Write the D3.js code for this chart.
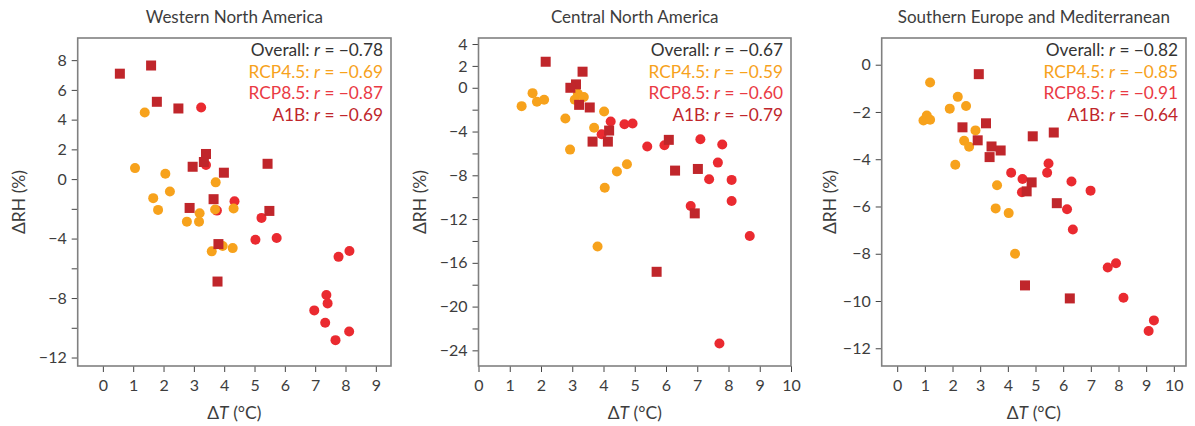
<!DOCTYPE html>
<html>
<head>
<meta charset="utf-8">
<script src="https://cdn.jsdelivr.net/npm/d3@7"></script>
<style>
  body { margin: 0; background: #fff; }
  svg text { font-family: Lato, "Open Sans", sans-serif; fill: #3d3d3d; font-weight: 400; }
</style>
</head>
<body>
<div id="chart"></div>
<script>
// panel titles
const titles = ["Western North America", "Central North America", "Southern Europe and Mediterranean"];

// legend text per panel: [overall, rcp45, rcp85, a1b]
const corrs = [
  ["−0.78", "−0.69", "−0.87", "−0.69"],
  ["−0.67", "−0.59", "−0.60", "−0.79"],
  ["−0.82", "−0.85", "−0.91", "−0.64"]
];

// axis setup per panel
const xDomains = [[-0.83, 9.5], [0, 10], [-0.56, 10.44]];
const yDomains = [[-12.57, 9.49], [-25.43, 4.55], [-12.75, 1.13]];
const xTicks = [[0,1,2,3,4,5,6,7,8,9], [0,1,2,3,4,5,6,7,8,9,10], [0,1,2,3,4,5,6,7,8,9,10]];
const yTicks = [
  [8,6,4,2,0,-2,-4,-6,-8,-10,-12],
  [4,2,0,-2,-4,-6,-8,-10,-12,-14,-16,-18,-20,-22,-24],
  [0,-2,-4,-6,-8,-10,-12]
];
const yLabelled = [
  [8,6,4,2,0,-4,-8,-12],
  [4,2,0,-4,-8,-12,-16,-20,-24],
  [0,-2,-4,-6,-8,-10,-12]
];

// data [dT, dRH]
// Western North America
const wna45 = [[1.38,4.48],[1.06,0.74],[2.06,0.36],[3.72,-0.22],[2.21,-0.83],[1.66,-1.28],[1.82,-2.07],
  [3.19,-2.30],[3.70,-2.05],[4.31,-1.98],[2.77,-2.86],[3.17,-2.86],[3.59,-4.86],[3.95,-4.5],[4.28,-4.64]];
const wna85 = [[3.24,4.82],[3.40,0.95],[4.34,-1.49],[3.76,-2.12],[5.23,-2.61],[5.03,-4.08],[5.73,-3.96],
  [7.77,-5.23],[8.13,-4.84],[7.37,-7.79],[7.41,-8.36],[6.97,-8.83],[7.33,-9.66],[8.12,-10.25],[7.67,-10.83]];
const wnaA1B = [[0.56,7.09],[1.59,7.64],[1.78,5.2],[2.49,4.75],[3.40,1.69],[2.96,0.83],[3.33,1.15],
  [3.99,0.43],[5.43,1.03],[3.65,-1.35],[2.86,-1.94],[5.49,-2.14],[3.81,-4.37],[3.78,-6.89]];
// Central North America
const cna45 = [[1.38,-1.68],[1.73,-0.49],[1.87,-1.28],[2.10,-1.10],[3.18,-0.55],[3.08,-1.10],[3.37,-0.85],
  [4.02,-2.17],[2.78,-2.81],[3.70,-3.66],[2.93,-5.65],[4.75,-6.99],[4.43,-7.66],[4.04,-9.13],[3.81,-14.5]];
const cna85 = [[4.23,-3.08],[4.67,-3.33],[4.93,-3.27],[3.94,-4.24],[5.40,-5.37],[5.95,-5.25],[7.10,-4.70],
  [7.80,-5.19],[7.66,-6.84],[7.38,-8.36],[8.10,-8.42],[8.10,-10.35],[6.79,-10.81],[8.68,-13.55],[7.71,-23.38]];
const cnaA1B = [[2.15,2.38],[3.33,1.47],[3.12,0.31],[2.94,0.0],[3.22,-1.56],[3.56,-1.8],[4.18,-3.91],
  [3.65,-4.92],[4.14,-4.92],[6.09,-4.76],[6.29,-7.57],[7.02,-7.42],[6.92,-11.48],[5.70,-16.82]];
// Southern Europe and Mediterranean
const sem45 = [[1.19,-0.75],[2.19,-1.36],[2.49,-1.75],[1.90,-1.86],[1.07,-2.15],[0.95,-2.36],[1.19,-2.33],
  [2.83,-2.78],[2.42,-3.22],[2.60,-3.47],[2.10,-4.23],[3.61,-5.10],[3.56,-6.08],[4.03,-6.28],[4.26,-8.00]];
const sem85 = [[4.12,-4.57],[4.53,-4.84],[4.51,-5.40],[5.47,-4.18],[5.42,-4.57],[6.30,-4.94],[6.99,-5.33],
  [6.14,-6.12],[6.35,-6.97],[7.61,-8.58],[7.91,-8.40],[8.18,-9.86],[9.28,-10.82],[9.09,-11.27]];
const semA1B = [[2.95,-0.40],[2.36,-2.65],[3.21,-2.48],[2.91,-3.20],[3.41,-3.46],[3.74,-3.63],[3.34,-3.91],
  [4.90,-3.03],[5.66,-2.87],[4.86,-4.98],[4.68,-5.36],[5.77,-5.86],[4.62,-9.34],[6.24,-9.89]];

const rcp45 = [wna45, cna45, sem45];
const rcp85 = [wna85, cna85, sem85];
const a1b = [wnaA1B, cnaA1B, semA1B];

const cOrange = "#f7a21c", cRed = "#ea2a30", cDark = "#c0262b";

const W = 1195, H = 426;
const frames = [[77.7, 391], [478.5, 791], [881.7, 1186]];
const plotTop = 38, plotBottom = 366;

const svg = d3.select("#chart").append("svg")
  .attr("width", W).attr("height", H);

frames.forEach(function(f, i) {
  const x = d3.scaleLinear().domain(xDomains[i]).range([f[0], f[1]]);
  const y = d3.scaleLinear().domain(yDomains[i]).range([plotBottom, plotTop]);
  const g = svg.append("g");
  const cx = (f[0] + f[1]) / 2;

  // title
  g.append("text")
    .attr("x", cx).attr("y", 23)
    .attr("text-anchor", "middle")
    .style("font-size", "17px")
    .text(titles[i]);

  // x axis
  const xa = g.append("g")
    .attr("transform", `translate(0,${plotBottom})`)
    .call(d3.axisBottom(x).tickValues(xTicks[i]).tickSize(6).tickPadding(8).tickFormat(d3.format("d")));
  // y axis
  const ya = g.append("g")
    .attr("transform", `translate(${f[0]},0)`)
    .call(d3.axisLeft(y).tickValues(yTicks[i]).tickSize(6).tickPadding(5)
      .tickFormat(d => yLabelled[i].includes(d) ? d3.format("d")(d) : ""));
  [xa, ya].forEach(function(a) {
    a.select(".domain").remove();
    a.selectAll("line").attr("stroke", "#444").attr("stroke-width", 1);
    a.selectAll("text").style("font-size", "16px").attr("fill", "#3d3d3d");
  });

  // frame
  g.append("rect")
    .attr("x", f[0]).attr("y", plotTop)
    .attr("width", f[1] - f[0]).attr("height", plotBottom - plotTop)
    .attr("fill", "none").attr("stroke", "#808080").attr("stroke-width", 1.6);

  // points
  g.selectAll(".r85").data(rcp85[i]).enter().append("circle")
    .attr("cx", d => x(d[0])).attr("cy", d => y(d[1])).attr("r", 5)
    .attr("fill", cRed);
  g.selectAll(".r45").data(rcp45[i]).enter().append("circle")
    .attr("cx", d => x(d[0])).attr("cy", d => y(d[1])).attr("r", 5)
    .attr("fill", cOrange);
  g.selectAll(".a1b").data(a1b[i]).enter().append("rect")
    .attr("x", d => x(d[0]) - 5).attr("y", d => y(d[1]) - 5)
    .attr("width", 10).attr("height", 10)
    .attr("fill", cDark);

  // legend
  const labels = ["Overall", "RCP4.5", "RCP8.5", "A1B"];
  const colors = ["#333", "#f7a21c", "#ea3a44", "#c0262b"];
  labels.forEach(function(l, k) {
    const t = g.append("text")
      .attr("x", f[1] - 8).attr("y", 56 + k * 21.5)
      .attr("text-anchor", "end")
      .style("font-size", "17.3px")
      .style("fill", colors[k]);
    t.append("tspan").text(l + ": ");
    t.append("tspan").style("font-style", "italic").text("r");
    t.append("tspan").text(" = " + corrs[i][k]);
  });

  // axis labels
  const xl = g.append("text")
    .attr("x", cx).attr("y", 419)
    .attr("text-anchor", "middle")
    .style("font-size", "17.5px");
  xl.append("tspan").text("Δ");
  xl.append("tspan").style("font-style", "italic").text("T");
  xl.append("tspan").text(" (°C)");

  const ylx = [25, 426, 836][i];
  g.append("text")
    .attr("transform", `translate(${ylx},${(plotTop + plotBottom) / 2}) rotate(-90)`)
    .attr("text-anchor", "middle")
    .style("font-size", "17.5px")
    .text("ΔRH (%)");
});
</script>
</body>
</html>
